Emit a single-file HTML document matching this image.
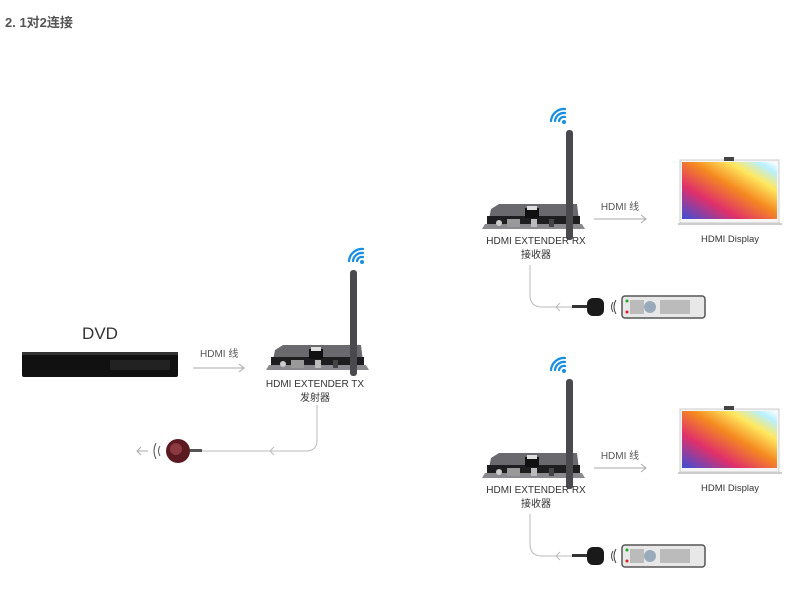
<!DOCTYPE html>
<html><head><meta charset="utf-8"><style>
html,body{margin:0;padding:0;background:#fff;width:798px;height:594px;overflow:hidden}
svg{display:block}
text{font-family:"Liberation Sans","Noto Sans CJK SC",sans-serif}
</style></head><body>
<svg width="798" height="594" viewBox="0 0 798 594" xmlns="http://www.w3.org/2000/svg">
<defs>
<linearGradient id="scr" x1="0" y1="1" x2="1" y2="0">
<stop offset="0" stop-color="#3a4fd8"/><stop offset="0.3" stop-color="#e0306a"/><stop offset="0.55" stop-color="#f58a20"/><stop offset="0.75" stop-color="#ffe860"/><stop offset="0.9" stop-color="#b8f0ff"/><stop offset="1" stop-color="#ffffff"/>
</linearGradient>
<g id="wifi" fill="none" stroke="#1a8fe0" stroke-width="2.3" stroke-linecap="round">
<circle cx="0" cy="0" r="2" fill="#1a8fe0" stroke="none"/>
<path d="M-5,-1 A5,5 0 0 1 1,-5"/><path d="M-9,-1 A9,9 0 0 1 1,-9"/><path d="M-13,-1 A13,13 0 0 1 1,-13"/>
</g>
<g id="box">
<polygon points="0,25 4,5 12,0 90,0 93,25" fill="#6a6a6e"/>
<rect x="0" y="12" width="93" height="13" fill="#1e1e20"/>
<polygon points="-5,25 98,25 95,20 -2,20" fill="#8a8a8e"/>
<rect x="38" y="4" width="14" height="10" fill="#111"/><rect x="40" y="2" width="10" height="4" fill="#ddd"/>
<circle cx="12" cy="19" r="3" fill="#ccc"/><rect x="20" y="15" width="13" height="8" fill="#999"/>
<rect x="44" y="15" width="6" height="8" fill="#bbb"/><rect x="62" y="15" width="5" height="8" fill="#444"/>
</g>
<g id="rx">
<use href="#wifi" x="564" y="122"/>
<use href="#box" x="487" y="204"/>
<rect x="566" y="130" width="7" height="110" rx="3" fill="#4a4a4e"/>
<text x="536" y="244" font-size="10" text-anchor="middle" fill="#333">HDMI EXTENDER RX</text>
<text x="536" y="258" font-size="10" text-anchor="middle" fill="#333">接收器</text>
<text x="620" y="210" font-size="10" text-anchor="middle" fill="#555">HDMI 线</text>
<path d="M594,219 H646 M641,215 L646,219 L641,223" fill="none" stroke="#aaa" stroke-width="1"/>
<rect x="680" y="160" width="99" height="63" fill="#f5f5f5" stroke="#ccc"/>
<rect x="682" y="162" width="95" height="57" fill="url(#scr)"/>
<rect x="724" y="157" width="10" height="4" fill="#444"/>
<rect x="678" y="223" width="104" height="2" fill="#ccc"/>
<text x="730" y="242" font-size="9.5" text-anchor="middle" fill="#333">HDMI Display</text>
<path d="M530,265 V295 Q530,307 542,307 H578 M560,303 L556,307 L560,311" fill="none" stroke="#bbb" stroke-width="1"/>
<rect x="572" y="305" width="16" height="3" fill="#333"/>
<rect x="587" y="298" width="17" height="18" rx="6" fill="#1a1a1a"/>
<path d="M613,302 Q610,307 613,312 M616,300 Q612,307 616,314" stroke="#444" fill="none" stroke-width="1"/>
<rect x="622" y="296" width="83" height="22" rx="3" fill="#e8e8e8" stroke="#555" stroke-width="1.5"/>
<circle cx="650" cy="307" r="6" fill="#9ab"/>
<rect x="630" y="300" width="14" height="14" fill="#bbb"/><rect x="660" y="300" width="30" height="14" fill="#bbb"/>
<circle cx="627" cy="301" r="1.5" fill="#2a2"/><circle cx="627" cy="312" r="1.5" fill="#d22"/>
</g>
</defs>
<text x="5" y="27" font-size="13" font-weight="bold" fill="#555">2. 1对2连接</text>
<!-- DVD -->
<text x="100" y="339" font-size="17" text-anchor="middle" fill="#333">DVD</text>
<rect x="22" y="352" width="156" height="25" rx="2" fill="#111"/>
<rect x="22" y="352" width="156" height="3" fill="#333"/>
<rect x="110" y="360" width="60" height="10" fill="#222"/>
<text x="200" y="357" font-size="10" fill="#555">HDMI 线</text>
<path d="M193,368 H244 M239,364 L244,368 L239,372" fill="none" stroke="#aaa" stroke-width="1"/>
<!-- TX -->
<use href="#wifi" x="362" y="262"/>
<use href="#box" x="271" y="345"/>
<rect x="350" y="270" width="7" height="106" rx="3" fill="#4a4a4e"/>
<text x="315" y="387" font-size="10" text-anchor="middle" fill="#333">HDMI EXTENDER TX</text>
<text x="315" y="401" font-size="10" text-anchor="middle" fill="#333">发射器</text>
<path d="M317,405 V440 Q317,451 306,451 H200 M274,447 L270,451 L274,455" fill="none" stroke="#bbb" stroke-width="1"/>
<rect x="186" y="449" width="16" height="3" fill="#555"/>
<circle cx="178" cy="451" r="12" fill="#5a1a20"/>
<circle cx="176" cy="449" r="6" fill="#8a3a40"/>
<path d="M160,446 Q157,451 160,456 M156,443 Q152,451 156,459" stroke="#555" fill="none" stroke-width="1"/>
<path d="M137,451 H148 M141,447 L137,451 L141,455" stroke="#aaa" fill="none" stroke-width="1"/>
<use href="#rx"/>
<use href="#rx" y="249"/>
</svg>
</body></html>
